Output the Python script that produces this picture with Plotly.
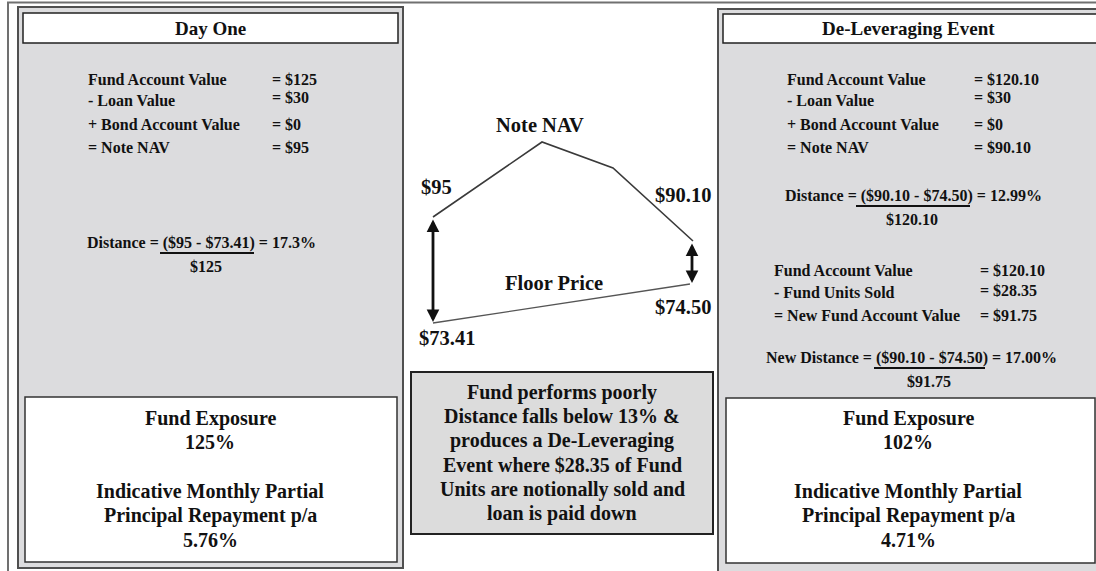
import plotly.graph_objects as go

# ---------------- data ----------------
day1_title = "Day One"
event_title = "De-Leveraging Event"

calc_labels = ["Fund Account Value", "- Loan Value", "+ Bond Account Value", "= Note NAV"]
day1_values = ["= $125", "= $30", "= $0", "= $95"]
event_values = ["= $120.10", "= $30", "= $0", "= $90.10"]

sale_labels = ["Fund Account Value", "- Fund Units Sold", "= New Fund Account Value"]
sale_values = ["= $120.10", "= $28.35", "= $91.75"]

day1_distance = ["Distance = ", "($95 - $73.41)", " = 17.3%", "$125"]
event_distance = ["Distance = ", "($90.10 - $74.50)", " = 12.99%", "$120.10"]
new_distance = ["New Distance = ", "($90.10 - $74.50)", " = 17.00%", "$91.75"]

day1_summary = ["Fund Exposure", "125%", "", "Indicative Monthly Partial", "Principal Repayment p/a", "5.76%"]
event_summary = ["Fund Exposure", "102%", "", "Indicative Monthly Partial", "Principal Repayment p/a", "4.71%"]

middle_text = ["Fund performs poorly", "Distance falls below 13% &", "produces a De-Leveraging",
               "Event where $28.35 of Fund", "Units are notionally sold and", "loan is paid down"]

# schematic path of the Note NAV and the Floor Price (diagram plane)
nav_x = [433, 542, 613, 693]
nav_y = [217, 142, 168, 241]
floor_x = [433, 690]
floor_y = [323, 284]
chart_labels = ["Note NAV", "$95", "$90.10", "Floor Price", "$74.50", "$73.41"]

# ---------------- figure ----------------
W, H = 1096, 571
FONT = "Liberation Serif, Times New Roman, serif"
INK = "#111111"
PANEL = "#dcdcde"

fig = go.Figure()

shapes = []
def rect(x0, y0, x1, y1, fill, line, width=1.5):
    shapes.append(dict(type="rect", xref="x", yref="y", x0=x0, y0=y0, x1=x1, y1=y1,
                       fillcolor=fill, line=dict(color=line, width=width), layer="below"))
def hline(x0, x1, y, color=INK, width=2):
    shapes.append(dict(type="line", xref="x", yref="y", x0=x0, x1=x1, y0=y, y1=y,
                       line=dict(color=color, width=width), layer="above"))

# outer frame lines
shapes.append(dict(type="line", xref="x", yref="y", x0=7, x1=W, y0=2.5, y1=2.5,
                   line=dict(color="#707070", width=2), layer="below"))
shapes.append(dict(type="line", xref="x", yref="y", x0=8, x1=8, y0=2.5, y1=H,
                   line=dict(color="#707070", width=2), layer="below"))

# left panel
rect(18, 7, 403, 568, PANEL, "#505050", 2)
rect(23, 13, 398, 43, "white", "#222222", 1.5)
rect(25, 397, 397, 562, "white", "#333333", 1.5)
# right panel
rect(718, 9, W + 10, H + 10, PANEL, "#505050", 2)
rect(723, 14, W + 10, 43, "white", "#222222", 1.5)
rect(726, 398, 1095, 563, "white", "#333333", 1.5)
# middle text box
rect(411, 372, 713, 534, "#dcdcdc", "#222222", 2)

annotations = []
def txt(x, y, s, size=16, anchor="left"):
    annotations.append(dict(x=x, y=y, xref="x", yref="y", text="<b>" + s + "</b>" if s else "",
                            showarrow=False, xanchor=anchor, yanchor="middle",
                            font=dict(family=FONT, size=size, color=INK)))

# titles
txt(210, 28, day1_title, 19, "center")
txt(908, 28, event_title, 19, "center")

# calculation rows
row_y = [79, 100, 124, 147]
val_y = [79, 97, 124, 147]
for i, lab in enumerate(calc_labels):
    txt(86, row_y[i], lab)
    txt(270, val_y[i], day1_values[i])
    txt(785, row_y[i], lab)
    txt(972, val_y[i], event_values[i])

sale_row_y = [270, 292, 315]
sale_val_y = [270, 290, 315]
for i, lab in enumerate(sale_labels):
    txt(772, sale_row_y[i], lab)
    txt(978, sale_val_y[i], sale_values[i])

# distance fractions
def fraction(parts, x_left, y, ul_x0, ul_x1, den_x):
    txt(x_left, y, "".join(parts[:3]))
    hline(ul_x0, ul_x1, y + 10, INK, 2)
    txt(den_x, y + 23, parts[3], 16, "center")

fraction(day1_distance, 85, 243, 160, 254, 206)
fraction(event_distance, 783, 196, 856, 970, 912)
fraction(new_distance, 764, 358, 874, 985, 929)

# summary boxes
for i, s in enumerate(day1_summary):
    txt(210, 418 + 24.4 * i, s, 20, "center")
for i, s in enumerate(event_summary):
    txt(908, 418 + 24.4 * i, s, 20, "center")

# middle box text
for i, s in enumerate(middle_text):
    txt(562, 392 + 24.3 * i, s, 20, "center")

# chart lines
fig.add_trace(go.Scatter(x=nav_x, y=nav_y, mode="lines",
                         line=dict(color="#3a3a3a", width=1.6), hoverinfo="skip"))
fig.add_trace(go.Scatter(x=floor_x, y=floor_y, mode="lines",
                         line=dict(color="#555555", width=1.3), hoverinfo="skip"))

# double arrows between NAV and floor
def darrow(x, y_top, y_bot):
    annotations.append(dict(x=x, y=y_bot - 1, ax=x, ay=y_top + 1, xref="x", yref="y",
                            axref="x", ayref="y", text="", showarrow=True,
                            arrowhead=2, arrowside="end+start", arrowsize=0.9,
                            arrowwidth=2.8, arrowcolor=INK, standoff=0, startstandoff=0))
darrow(nav_x[0], nav_y[0], floor_y[0])
darrow(692, nav_y[-1], floor_y[-1])

# chart labels
label_pos = [(540, 125), (436, 187), (683, 195), (554, 283), (683, 307), (447, 338)]
for s, (x, y) in zip(chart_labels, label_pos):
    txt(x, y, s, 20.5, "center")

fig.update_layout(
    width=W, height=H, margin=dict(l=0, r=0, t=0, b=0),
    paper_bgcolor="white", plot_bgcolor="white", showlegend=False,
    xaxis=dict(range=[0, W], visible=False, fixedrange=True),
    yaxis=dict(range=[H, 0], visible=False, fixedrange=True),
    shapes=shapes, annotations=annotations,
)
fig.write_html("out.html", config={"displayModeBar": False},
               post_script="document.body.style.margin='0px';document.body.style.overflow='hidden';")
